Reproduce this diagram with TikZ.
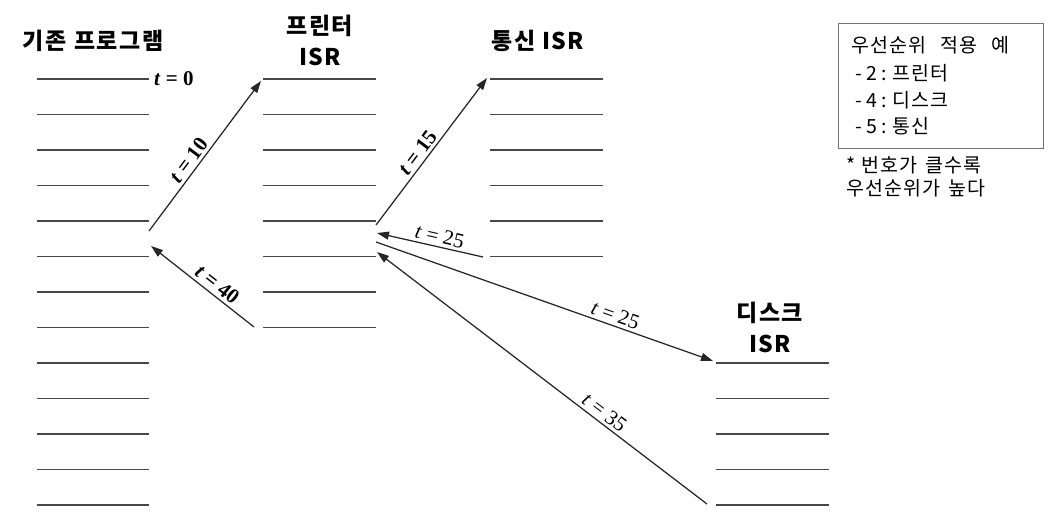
\documentclass[tikz,border=0pt]{standalone}
\usepackage{fontspec}
\setmainfont{Liberation Serif}
\newfontfamily\kr[LetterSpace=6]{Noto Sans CJK KR}
\usetikzlibrary{arrows.meta}
\begin{document}
\begin{tikzpicture}[x=1pt,y=-1pt,
  slot/.style={draw=black!72, line width=1.5pt},
  evt/.style={draw=black!85, line width=1.25pt, -{Triangle[length=12pt,width=8pt]}},
  tlab/.style={font=\fontsize{21}{22}\selectfont, sloped, above=1.5pt, inner sep=1.5pt},
  tlabb/.style={tlab, font=\bfseries\fontsize{21}{22}\selectfont},
  title/.style={font=\kr\bfseries\fontsize{23}{31}\selectfont, align=center, inner sep=0pt},
  boxtxt/.style={font=\kr\fontsize{19.5}{22}\selectfont, anchor=west, inner sep=0pt}]
\useasboundingbox (0,0) rectangle (1059,524);

% slots
\foreach \i in {0,...,12} \draw[slot] (37,{79+35.5*\i}) -- (149,{79+35.5*\i});
\foreach \i in {0,...,7} \draw[slot] (263,{79+35.5*\i}) -- (376,{79+35.5*\i});
\foreach \i in {0,...,5} \draw[slot] (490,{79+35.5*\i}) -- (603,{79+35.5*\i});
\foreach \i in {8,...,12} \draw[slot] (716,{79+35.5*\i}) -- (829,{79+35.5*\i});

% titles
\node[title] (tmain) at (93,41) {기존\hspace{8pt}프로그램};
\node[title] (tprn) at (320,40) {프린터\\ISR};
\node[title] (tcom) at (538,41) {통신\hspace{7pt}ISR};
\node[title] (tdsk) at (770,327) {디스크\\ISR};

% t = 0
\node[font=\bfseries\fontsize{21}{22}\selectfont, anchor=west, inner sep=0pt] (t0) at (154,79) {\textit{t} = 0};

% arrow end points
\coordinate (a10s) at (149,231); \coordinate (a10e) at (261,81);
\coordinate (a40s) at (254,327); \coordinate (a40e) at (151,246);
\coordinate (a15s) at (376,225); \coordinate (a15e) at (487,78);
\coordinate (a25s) at (483,257); \coordinate (a25e) at (377,233);
\coordinate (d25s) at (376,242); \coordinate (d25e) at (713,361);
\coordinate (a35s) at (707,504); \coordinate (a35e) at (377,252);

\draw[evt] (a10s) -- node[tlabb, pos=0.43] (l10) {\textit{t} = 10} (a10e);
\draw[evt] (a40s) -- node[tlabb, pos=0.42] (l40) {\textit{t} = 40} (a40e);
\draw[evt] (a15s) -- node[tlabb, pos=0.45] (l15) {\textit{t} = 15} (a15e);
\draw[evt] (a25s) -- node[tlab, pos=0.43] (l25a) {\textit{t} = 25} (a25e);
\draw[evt] (d25s) -- node[tlab, pos=0.70] (l25b) {\textit{t} = 25} (d25e);
\draw[evt] (a35s) -- node[tlab, pos=0.33] (l35) {\textit{t} = 35} (a35e);

% legend
\node[draw=black!55, line width=1pt, minimum width=205pt, minimum height=125pt, anchor=north west, inner sep=0pt] (legend) at (838,23) {};
\node[boxtxt] (lg0) at (851,45) {우선순위\hspace{14pt}적용\hspace{14pt}예};
\node[boxtxt] (lg1) at (855,73) {-\hspace{5pt}2\hspace{4pt}:\hspace{5pt}프린터};
\node[boxtxt] (lg2) at (855,100) {-\hspace{5pt}4\hspace{4pt}:\hspace{5pt}디스크};
\node[boxtxt] (lg3) at (855,126) {-\hspace{5pt}5\hspace{4pt}:\hspace{5pt}통신};
\node[boxtxt] (nt1) at (846,165) {*\hspace{6pt}번호가\hspace{8pt}클수록};
\node[boxtxt] (nt2) at (846,188) {우선순위가\hspace{8pt}높다};
\end{tikzpicture}
\end{document}
